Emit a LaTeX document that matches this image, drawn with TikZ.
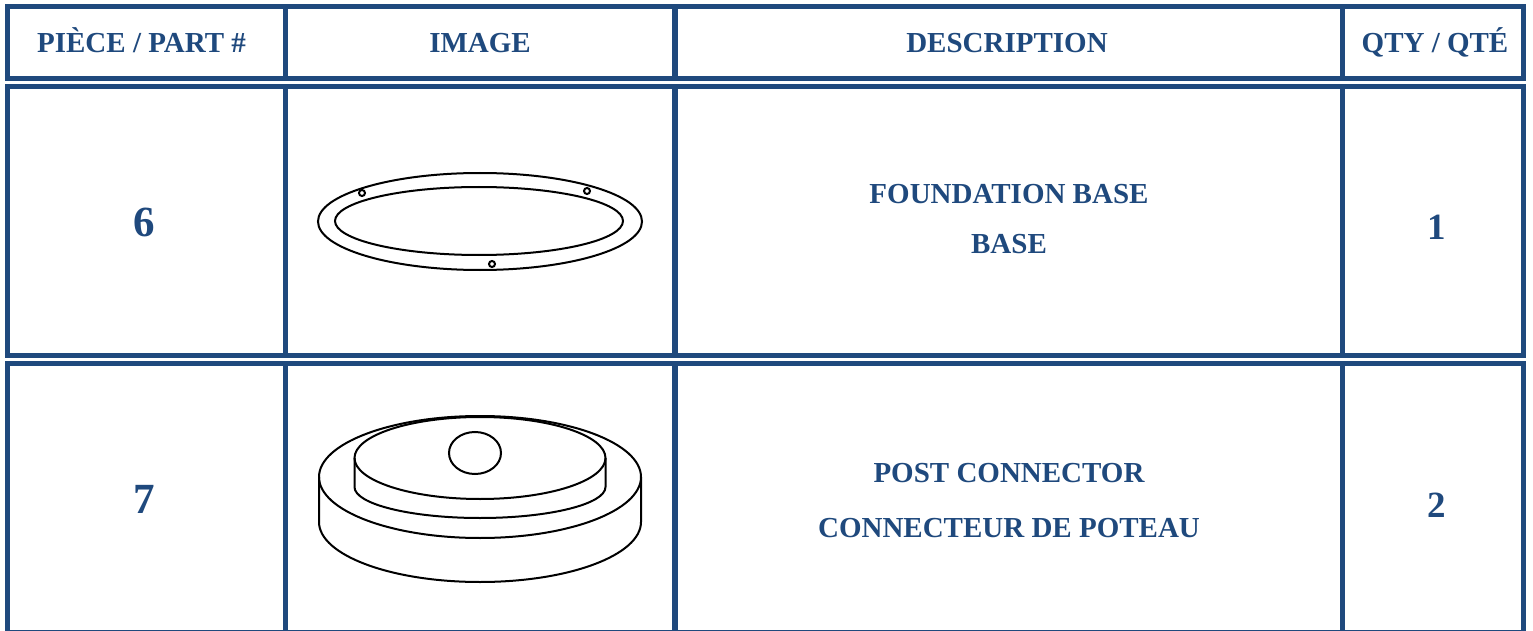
\documentclass[tikz,border=0pt]{standalone}
\usepackage{fontspec}
\setmainfont{Liberation Serif}
\usetikzlibrary{positioning}
\definecolor{tabblue}{RGB}{31,73,125}
\tikzset{
	tabline/.style={draw=tabblue, line width=2.75pt},
	head/.style={text=tabblue, inner sep=0pt, anchor=base,
		font=\bfseries\fontsize{14.5}{17}\selectfont},
	partno/.style={head, font=\bfseries\fontsize{21.5}{25}\selectfont},
	qtyno/.style={head, font=\bfseries\fontsize{18.5}{22}\selectfont},
	sketch/.style={draw=black, line width=1pt}
}

\begin{document}
\begin{tikzpicture}[x=0.5pt, y=-0.5pt]
	\useasboundingbox (0,0) rectangle (1533,631);

	% Add the table rows
	\foreach \t/\b in {6.5/78.5, 86.5/355.5, 363.5/632.5}{
		\draw[tabline] (7.5,\t) rectangle (1523.5,\b);
		\foreach \x in {285.5,675,1342.5}
			\draw[tabline] (\x,\t) -- (\x,\b);
	}

	% Add the header
	\node[head] (hpart)  at (141.5,53) {PIÈCE / PART \#};
	\node[head] (himage) at (480,53)   {IMAGE};
	\node[head] (hdesc)  at (1007,53)  {DESCRIPTION};
	\node[head] (hqty)   at (1435,53)  {QTY / QTÉ};

	% Add row 6
	\node[partno] (p6) at (144.5,236) {6};
	\node[head] (d6a) at (1009,204) {FOUNDATION BASE};
	\node[head,
		  below=25pt of d6a.base,
		  anchor=base] (d6b) {BASE};
	\node[qtyno] (q6) at (1437,240) {1};

	\draw[sketch] (480,221.5) ellipse [x radius=162, y radius=48.5];
	\draw[sketch] (479,221) ellipse [x radius=144, y radius=34];
	\foreach \hx/\hy in {362/193, 587/191, 492/264}
		\draw[sketch] (\hx,\hy) circle [radius=3];

	% Add row 7
	\node[partno] (p7) at (144.5,513.5) {7};
	\node[head] (d7a) at (1009,482) {POST CONNECTOR};
	\node[head,
		  below=27.5pt of d7a.base,
		  anchor=base] (d7b) {CONNECTEUR DE POTEAU};
	\node[qtyno] (q7) at (1437,517) {2};

	\draw[sketch] (480,477) ellipse [x radius=161, y radius=61];
	\draw[sketch] (319,477) -- (319,522)
		arc [start angle=180, end angle=0, x radius=161, y radius=60]
		-- (641,477);
	\draw[sketch] (480,458) ellipse [x radius=125.5, y radius=41];
	\draw[sketch] (354.5,458) -- (354.5,487)
		arc [start angle=180, end angle=0, x radius=125.5, y radius=31]
		-- (605.5,458);
	\draw[sketch] (475,453) ellipse [x radius=26, y radius=21];
\end{tikzpicture}
\end{document}
